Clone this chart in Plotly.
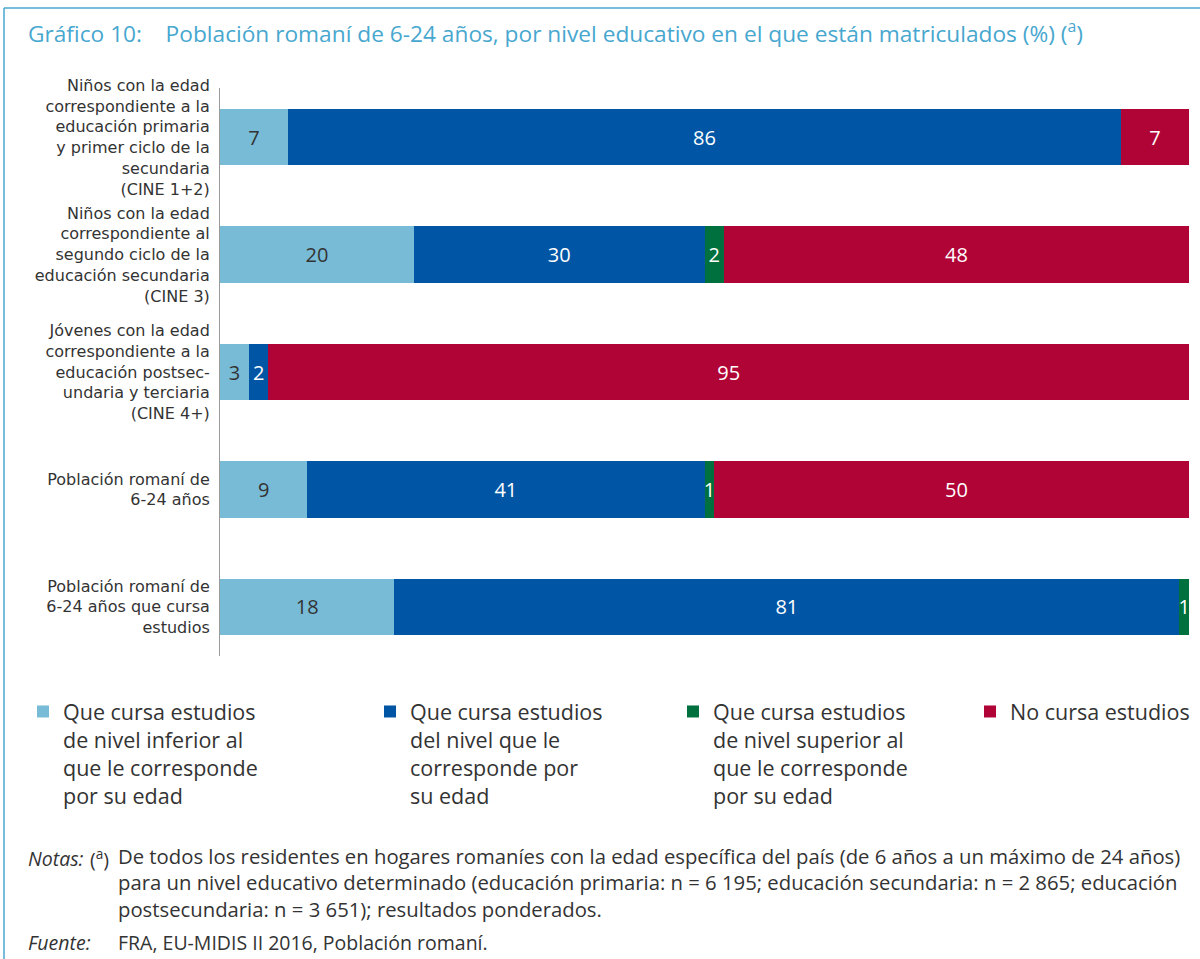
import plotly.graph_objects as go

# ---------------- data ----------------
categories = [
    "Niños con la edad<br>correspondiente a la<br>educación primaria<br>y primer ciclo de la<br>secundaria<br>(CINE 1+2)",
    "Niños con la edad<br>correspondiente al<br>segundo ciclo de la<br>educación secundaria<br>(CINE 3)",
    "Jóvenes con la edad<br>correspondiente a la<br>educación postsec-<br>undaria y terciaria<br>(CINE 4+)",
    "Población romaní de<br>6-24 años",
    "Población romaní de<br>6-24 años que cursa<br>estudios",
]
series_names = [
    "Que cursa estudios<br>de nivel inferior al<br>que le corresponde<br>por su edad",
    "Que cursa estudios<br>del nivel que le<br>corresponde por<br>su edad",
    "Que cursa estudios<br>de nivel superior al<br>que le corresponde<br>por su edad",
    "No cursa estudios",
]
nivel_inferior = [7, 20, 3, 9, 18]
nivel_correspondiente = [86, 30, 2, 41, 81]
nivel_superior = [None, 2, None, 1, 1]
no_cursa = [7, 48, 95, 50, None]

title_text = "Gráfico 10:\u00a0\u00a0\u00a0\u00a0Población romaní de 6-24 años, por nivel educativo en el que están matriculados (%) (<sup>a</sup>)"
notes_label = "<i>Notas:</i>"
notes_mark = "(<sup>a</sup>)"
notes_text = ("De todos los residentes en hogares romaníes con la edad específica del país (de 6 años a un máximo de 24 años)<br>"
              "para un nivel educativo determinado (educación primaria: n = 6 195; educación secundaria: n = 2 865; educación<br>"
              "postsecundaria: n = 3 651); resultados ponderados.")
source_label = "<i>Fuente:</i>"
source_text = "FRA, EU-MIDIS II 2016, Población romaní."

# ---------------- styling ----------------
colors = ["#78BBD6", "#0056A5", "#00703E", "#B10436"]
text_colors = ["#333333", "#FFFFFF", "#FFFFFF", "#FFFFFF"]
accent = "#47A7CF"
dark = "#333333"
FONT = "Open Sans"
TICK_FONT = "DejaVu Sans"

W, H = 1200, 959
ML, MR, MT, MB = 220, 11, 88, 303
PW = W - ML - MR
PH = H - MT - MB


def px(x):
    return (x - ML) / PW


def py(y):
    return (H - MB - y) / PH


series_values = [nivel_inferior, nivel_correspondiente, nivel_superior, no_cursa]
legend_ids = ["legend", "legend2", "legend3", "legend4"]
legend_x = [23, 370, 673, 970]

fig = go.Figure()
for i, (name, vals) in enumerate(zip(series_names, series_values)):
    ys = [c for c, v in zip(categories, vals) if v is not None]
    xs = [v for v in vals if v is not None]
    fig.add_trace(go.Bar(
        y=ys,
        x=xs,
        name=name,
        orientation="h",
        marker=dict(color=colors[i], line=dict(width=0)),
        texttemplate="%{x}",
        textposition="inside",
        insidetextanchor="middle",
        textangle=0,
        constraintext="none",
        textfont=dict(family=FONT, size=20, color=text_colors[i]),
        legend=legend_ids[i],
        hoverinfo="skip",
    ))

annotations = [
    dict(text=title_text, xref="paper", yref="paper", x=px(26), y=py(32),
         xanchor="left", yanchor="middle", showarrow=False,
         font=dict(family=FONT, size=22.7, color=accent)),
    dict(text=notes_label, xref="paper", yref="paper", x=px(26), y=py(858),
         xanchor="left", yanchor="middle", showarrow=False,
         font=dict(family=FONT, size=19.5, color=dark)),
    dict(text=notes_mark, xref="paper", yref="paper", x=px(88), y=py(858),
         xanchor="left", yanchor="middle", showarrow=False,
         font=dict(family=FONT, size=19.5, color=dark)),
    dict(text=notes_text, xref="paper", yref="paper", x=px(116), y=py(882),
         xanchor="left", yanchor="middle", showarrow=False, align="left",
         font=dict(family=FONT, size=20.3, color=dark)),
    dict(text=source_label, xref="paper", yref="paper", x=px(26), y=py(942),
         xanchor="left", yanchor="middle", showarrow=False,
         font=dict(family=FONT, size=19.5, color=dark)),
    dict(text=source_text, xref="paper", yref="paper", x=px(116), y=py(942),
         xanchor="left", yanchor="middle", showarrow=False,
         font=dict(family=FONT, size=19.5, color=dark)),
]

shapes = [
    dict(type="line", xref="paper", yref="paper", x0=px(4), x1=px(1200), y0=py(8), y1=py(8),
         line=dict(color=accent, width=1.5)),
    dict(type="line", xref="paper", yref="paper", x0=px(4), x1=px(4), y0=py(8), y1=py(959),
         line=dict(color=accent, width=1.5)),
]

legend_common = dict(
    orientation="v", xanchor="left", yanchor="top", valign="top",
    bgcolor="rgba(0,0,0,0)", borderwidth=0,
    font=dict(family=FONT, size=21.5, color=dark),
)
layout_legends = {}
for lid, lx in zip(legend_ids, legend_x):
    layout_legends[lid] = dict(x=px(lx), y=py(691), **legend_common)

fig.update_layout(
    width=W, height=H,
    margin=dict(l=ML, r=MR, t=MT, b=MB, pad=0, autoexpand=False),
    paper_bgcolor="white", plot_bgcolor="white",
    barmode="stack", bargap=0.52,
    showlegend=True,
    uniformtext=dict(mode="show", minsize=20),
    xaxis=dict(range=[0, 100], visible=False, fixedrange=True),
    yaxis=dict(type="category", categoryorder="array", categoryarray=categories,
               range=[4.42, -0.42], showticklabels=True, ticks="",
               ticklabelstandoff=6,
               tickfont=dict(family=TICK_FONT, size=16, color=dark),
               showgrid=False, zeroline=False, showline=True,
               linecolor="#9A9A9A", linewidth=1, fixedrange=True),
    annotations=annotations,
    shapes=shapes,
    font=dict(family=FONT, color=dark),
    **layout_legends,
)

fig.write_html("out.html", post_script="document.body.style.margin='0px';",
               config={"displayModeBar": False})
